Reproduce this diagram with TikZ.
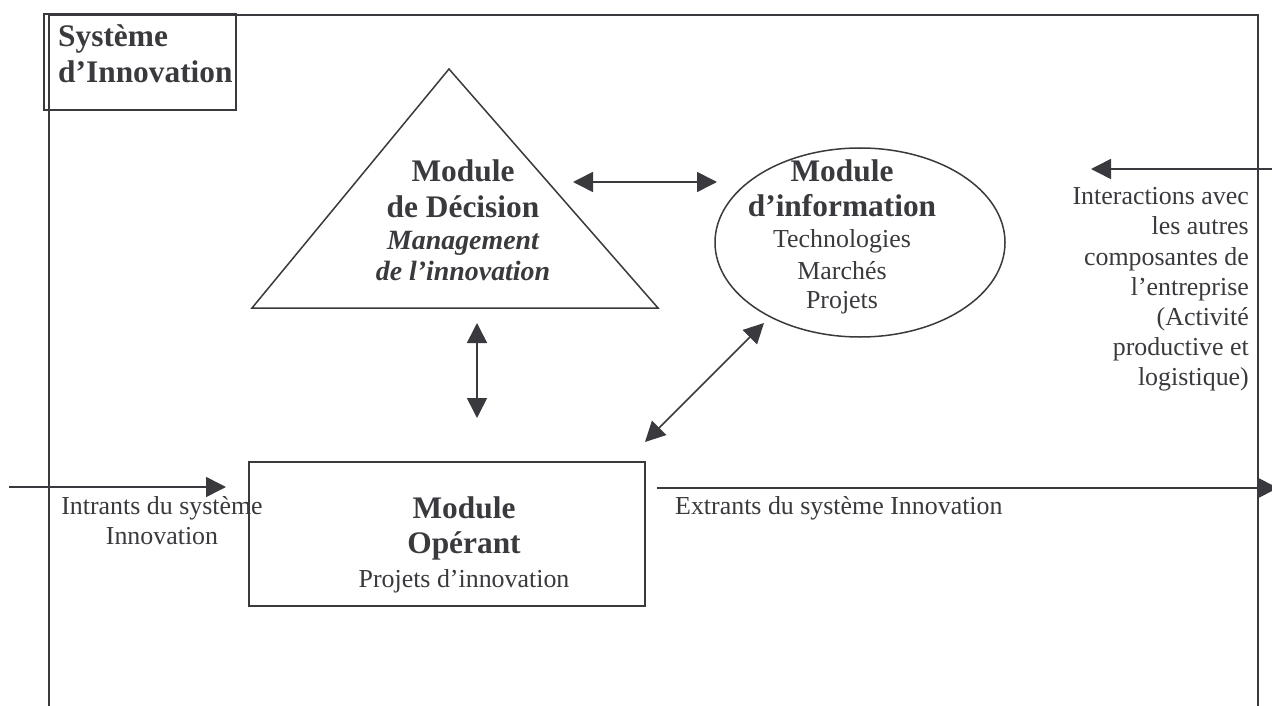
\documentclass[tikz,border=0pt]{standalone}
\usepackage{fontspec}
\setmainfont{Liberation Serif}
\usetikzlibrary{arrows.meta,shapes.geometric}
\definecolor{ink}{RGB}{58,58,62}
\tikzset{
  frame/.style={draw=ink,line width=2bp},
  shapeline/.style={draw=ink,line width=1.5bp},
  tip/.tip={Triangle[length=20bp,width=20bp]},
  arr/.style={draw=ink,line width=1.6bp,-tip},
  darr/.style={draw=ink,line width=1.6bp,tip-tip},
  boldtxt/.style={text=ink,font=\fontsize{31.5}{36}\selectfont\bfseries,inner sep=0pt},
  normtxt/.style={text=ink,font=\fontsize{26}{30}\selectfont,inner sep=0pt},
  italtxt/.style={text=ink,font=\fontsize{28}{32}\selectfont\bfseries\itshape,inner sep=0pt},
}
\begin{document}
\begin{tikzpicture}[x=1bp,y=-1bp]
\clip (0,0) rectangle (1272,706);
\fill[white] (0,0) rectangle (1272,706);

% outer frame (open at the bottom)
\coordinate (fbl) at (49,720);
\coordinate (ftl) at (49,15);
\coordinate (ftr) at (1258,15);
\coordinate (fbr) at (1258,720);
\draw[frame] (fbl) -- (ftl) -- (ftr) -- (fbr);

% title box
\node[shapeline,minimum width=192bp,minimum height=96bp,inner sep=0pt] (title) at (140,62) {};
\node[boldtxt,anchor=base west] (title1) at (58,47) {Système};
\node[boldtxt,anchor=base west] (title2) at (58,83) {d’Innovation};

% decision triangle
\coordinate (tA) at (449,69);
\coordinate (tL) at (252,308);
\coordinate (tR) at (658,308);
\draw[shapeline,line join=miter] (tA) -- (tR) -- (tL) -- cycle;
\node[boldtxt,anchor=base] (dec1) at (463,182) {Module};
\node[boldtxt,anchor=base] (dec2) at (463,218) {de Décision};
\node[italtxt,anchor=base] (dec3) at (463,250) {Management};
\node[italtxt,anchor=base] (dec4) at (463,280) {de l’innovation};

% information ellipse
\node[ellipse,shapeline,minimum width=290bp,minimum height=189bp,inner sep=0pt] (info) at (860,242.5) {};
\node[boldtxt,anchor=base] (inf1) at (842,182) {Module};
\node[boldtxt,anchor=base] (inf2) at (842,217) {d’information};
\node[normtxt,anchor=base] (inf3) at (842,248) {Technologies};
\node[normtxt,anchor=base] (inf4) at (842,279) {Marchés};
\node[normtxt,anchor=base] (inf5) at (842,308) {Projets};

% operating box
\node[shapeline,minimum width=396bp,minimum height=144bp,inner sep=0pt] (oper) at (447,534) {};
\node[boldtxt,anchor=base] (op1) at (464,518) {Module};
\node[boldtxt,anchor=base] (op2) at (464,553) {Opérant};
\node[normtxt,anchor=base] (op3) at (464,587) {Projets d’innovation};

% arrows between modules
\coordinate (h1) at (573,182);
\coordinate (h2) at (717,182);
\draw[darr] (h1) -- (h2);
\coordinate (v1) at (477,323);
\coordinate (v2) at (477,418);
\draw[darr] (v1) -- (v2);
\coordinate (g1) at (645,442);
\coordinate (g2) at (764,323);
\draw[darr] (g1) -- (g2);

% inputs
\coordinate (inS) at (9,487);
\coordinate (inE) at (226,487);
\draw[arr] (inS) -- (inE);
\node[normtxt,anchor=base] (in1) at (162,514) {Intrants du système};
\node[normtxt,anchor=base] (in2) at (162,544) {Innovation};

% outputs
\coordinate (outS) at (657,488);
\coordinate (outE) at (1278,488);
\draw[arr] (outS) -- (outE);
\node[normtxt,anchor=base west] (out1) at (675,514) {Extrants du système Innovation};

% interactions
\coordinate (itS) at (1280,169);
\coordinate (itE) at (1091,169);
\draw[arr] (itS) -- (itE);
\node[normtxt,anchor=base east] (it1) at (1249,205) {Interactions avec};
\node[normtxt,anchor=base east] (it2) at (1249,235) {les autres};
\node[normtxt,anchor=base east] (it3) at (1249,265) {composantes de};
\node[normtxt,anchor=base east] (it4) at (1249,295) {l’entreprise};
\node[normtxt,anchor=base east] (it5) at (1249,325) {(Activité};
\node[normtxt,anchor=base east] (it6) at (1249,355) {productive et};
\node[normtxt,anchor=base east] (it7) at (1249,385) {logistique)};
\end{tikzpicture}
\end{document}
